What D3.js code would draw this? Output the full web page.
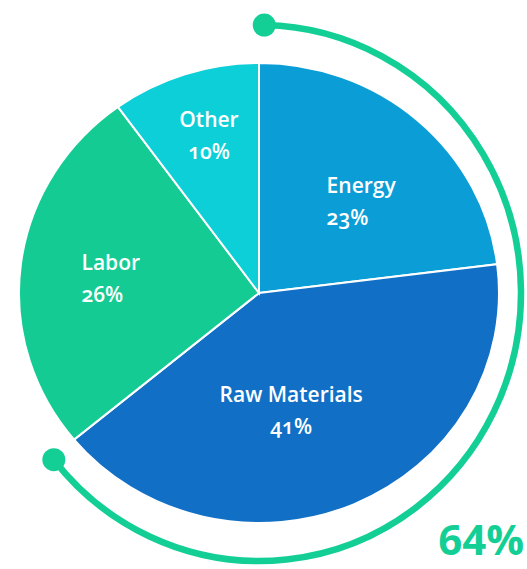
<!DOCTYPE html>
<html>
<head>
<meta charset="utf-8">
<script src="https://cdn.jsdelivr.net/npm/d3@7"></script>
<style>
  body { margin: 0; background: #fff; }
  text { font-family: 'Open Sans', sans-serif; font-variant-numeric: oldstyle-nums; }
  text.big { font-variant-numeric: lining-nums; }
</style>
</head>
<body>
<div id="chart"></div>
<script>
// Data
var categories = ['Energy', 'Raw Materials', 'Labor', 'Other']
var shares = [23, 41, 26, 10]
var highlightLabel = '64%'

var colors = ['#0b9ed6', '#1170c5', '#14cc93', '#0dcfd8']
var arcColor = '#13cf95'

// label layout: angle nudge (deg), distance from center, anchor
var labelLayout = {
  'Energy': { nudge: 4.2, dist: 143, anchor: 'start' },
  'Raw Materials': { nudge: 7, dist: 114, anchor: 'middle' },
  'Labor': { nudge: 1.6, dist: 150, anchor: 'start' },
  'Other': { nudge: 1.2, dist: 173, anchor: 'middle' }
}

var width = 527
var height = 569
var cx = 259
var cy = 293
var rx = 240
var ry = 230
var arcRx = 262
var arcRy = 268

var svg = d3.select('#chart')
  .append('svg')
  .attr('width', width)
  .attr('height', height)

var rows = categories.map((c, i) => ({ name: c, value: shares[i] }))

var pie = d3.pie().sort(null).value(d => d.value)
var slices = pie(rows)

var arc = d3.arc().innerRadius(0).outerRadius(rx)

// Pie (slightly squashed vertically)
svg.append('g')
  .attr('transform', 'translate(' + cx + ',' + cy + ') scale(1,' + (ry / rx) + ')')
  .selectAll('path')
  .data(slices)
  .enter()
  .append('path')
  .attr('d', arc)
  .attr('fill', (d, i) => colors[i])
  .attr('stroke', '#fff')
  .attr('stroke-width', 2)
  .attr('vector-effect', 'non-scaling-stroke')

// Highlight arc around the first two slices
var total = d3.sum(shares)
var startA = 0.02
var endA = startA + 2 * Math.PI * (shares[0] + shares[1]) / total

var outline = d3.arc()
  .innerRadius(arcRy)
  .outerRadius(arcRy)
  .startAngle(startA)
  .endAngle(endA)

svg.append('path')
  .attr('transform', 'translate(' + cx + ',' + cy + ') scale(' + (arcRx / arcRy) + ',1)')
  .attr('d', outline())
  .attr('fill', 'none')
  .attr('stroke', arcColor)
  .attr('stroke-width', 6.5)
  .attr('vector-effect', 'non-scaling-stroke')

svg.selectAll('.end-dot')
  .data([startA, endA])
  .enter()
  .append('circle')
  .attr('class', 'end-dot')
  .attr('cx', a => cx + arcRx * Math.sin(a))
  .attr('cy', a => cy - arcRy * Math.cos(a))
  .attr('r', 11.5)
  .attr('fill', arcColor)

// Labels
var labels = svg.append('g')
  .selectAll('g')
  .data(slices)
  .enter()
  .append('g')
  .each(function(d) {
    var lay = labelLayout[d.data.name]
    var a = (d.startAngle + d.endAngle) / 2 + lay.nudge * Math.PI / 180
    var x = cx + lay.dist * Math.sin(a)
    var y = cy - lay.dist * Math.cos(a)
    var g = d3.select(this)
    var t = g.append('text')
      .attr('y', y)
      .attr('fill', '#fff')
      .attr('font-size', 21)
      .attr('font-weight', 600)
      .attr('text-anchor', lay.anchor)
    var l1 = t.append('tspan').text(d.data.name)
    var l2 = t.append('tspan').attr('dy', 32).text(d.data.value + '%')
    if (lay.anchor === 'start') {
      var w = l1.node().getComputedTextLength()
      x = x - w / 2
    }
    l1.attr('x', x)
    l2.attr('x', x)
  })

// Big highlight number
svg.append('text')
  .attr('class', 'big')
  .attr('x', width - 3)
  .attr('y', 555)
  .attr('fill', arcColor)
  .attr('font-size', 42)
  .attr('font-weight', 700)
  .attr('text-anchor', 'end')
  .text(highlightLabel)
</script>
</body>
</html>
